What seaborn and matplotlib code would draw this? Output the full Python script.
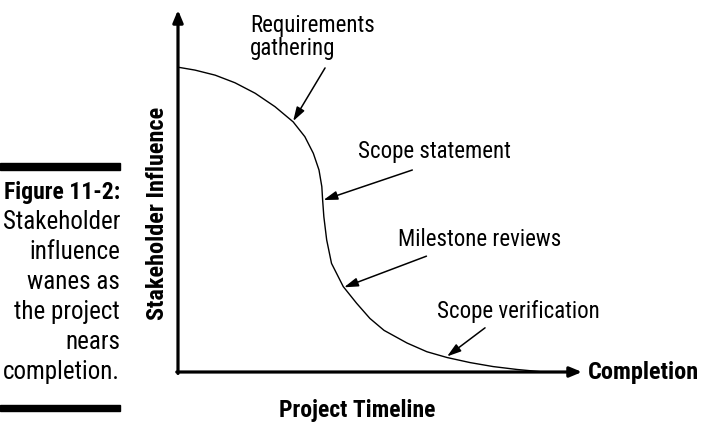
import numpy as np
import matplotlib.pyplot as plt
import seaborn as sns
import pandas as pd

# curve of stakeholder influence over the project timeline (0-100 both axes)
timeline = [0, 4.2, 9.2, 14.1, 19.1, 24.0, 28.5, 31.4, 33.5, 34.9, 35.6, 35.8, 36.1,
            36.8, 38.0, 40.9, 44.2, 47.5, 51.0, 56.7, 61.6, 66.6, 72.3, 78.0, 83.9, 89.6]
influence = [84.2, 83.4, 82.0, 79.9, 77.0, 73.3, 69.1, 65.0, 60.4, 55.8, 51.2, 47.5, 42.9,
             36.5, 30.0, 23.6, 19.0, 14.8, 11.5, 8.0, 5.6, 4.0, 2.6, 1.5, 0.7, 0.1]

# annotations: label, text position, arrow start, arrow tip (data units)
labels = ["Requirements\ngathering", "Scope statement", "Milestone reviews", "Scope verification"]
text_xy = [(17.8, 92.5), (44.5, 60.8), (54.5, 36.5), (64.0, 16.6)]
arrow_from = [(36.4, 84.0), (58.0, 55.8), (61.5, 32.0), (76.0, 12.2)]
arrow_to = [(28.5, 69.3), (36.0, 47.5), (41.1, 23.4), (66.6, 4.3)]

caption = ["Stakeholder", "influence", "wanes as", "the project", "nears", "completion."]

sns.set_style("white")
plt.rcParams['font.family'] = ['Roboto Condensed', 'Liberation Sans Narrow', 'Roboto', 'DejaVu Sans']
plt.rcParams['text.color'] = 'black'

W, H = 710, 422
fig = plt.figure(figsize=(W / 100, H / 100), dpi=100)
ax = fig.add_axes([178 / W, 1 - 372 / H, 404 / W, 362 / H])
ax.set_xlim(0, 100)
ax.set_ylim(0, 100)
ax.axis("off")

df = pd.DataFrame({"t": timeline, "s": influence})
sns.lineplot(data=df, x="t", y="s", sort=False, color="black", lw=1.0, ax=ax)

# axes with arrow heads
axis_arrow = dict(arrowstyle="-|>,head_length=0.6,head_width=0.25", lw=2.3,
                  color="black", mutation_scale=12, shrinkA=0, shrinkB=0)
ax.annotate("", xy=(100, 0), xytext=(-0.3, 0), arrowprops=axis_arrow, annotation_clip=False)
ax.annotate("", xy=(0, 100), xytext=(0, -0.4), arrowprops=axis_arrow, annotation_clip=False)

for lab, txy, a0, a1 in zip(labels, text_xy, arrow_from, arrow_to):
    ax.text(txy[0], txy[1], lab, fontsize=16.5, ha="left", va="center",
            linespacing=1.0, clip_on=False)
    ax.annotate("", xy=a1, xytext=a0,
                arrowprops=dict(arrowstyle="-|>,head_length=0.7,head_width=0.22",
                                lw=1.1, color="black", mutation_scale=12,
                                shrinkA=0, shrinkB=0),
                annotation_clip=False)

fig.text(588 / W, 1 - 372 / H, "Completion", fontsize=17.5, fontweight="bold",
         ha="left", va="center")
fig.text(357 / W, 1 - 410 / H, "Project Timeline", fontsize=17, fontweight="bold",
         ha="center", va="center")
fig.text(158 / W, 1 - 213 / H, "Stakeholder Influence", fontsize=17.5, fontweight="bold",
         ha="center", va="center", rotation=90)

# left figure caption
fig.patches.append(plt.Rectangle((0, 1 - 170 / H), 120 / W, 7 / H,
                                 transform=fig.transFigure, color="black"))
fig.patches.append(plt.Rectangle((0, 1 - 411 / H), 120 / W, 6 / H,
                                 transform=fig.transFigure, color="black"))
fig.text(120 / W, 1 - 192 / H, "Figure 11-2:", fontsize=17, fontweight="bold",
         ha="right", va="center")
for i, line in enumerate(caption):
    fig.text(120 / W, 1 - (222 + 30 * i) / H, line, fontsize=18,
             ha="right", va="center")

fig.savefig("out.png", dpi=100)
